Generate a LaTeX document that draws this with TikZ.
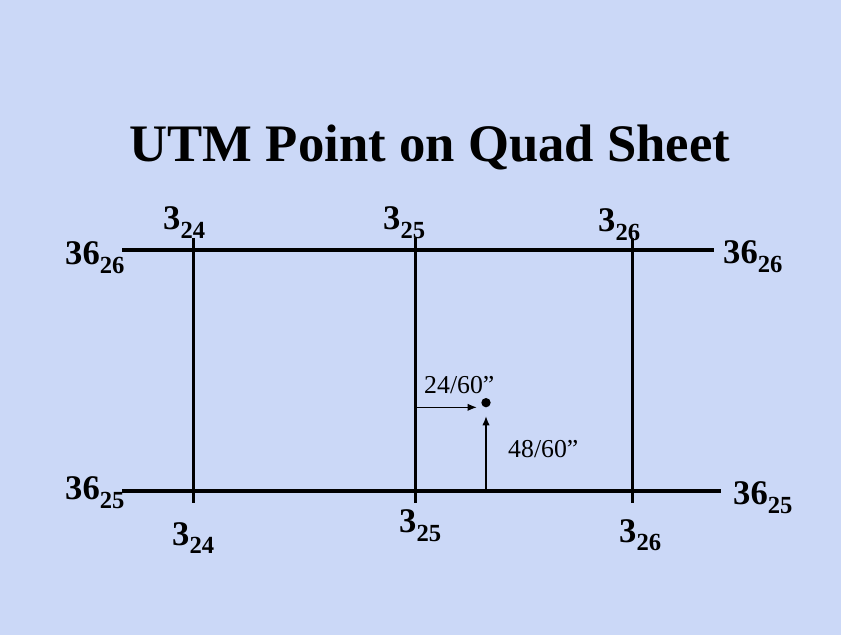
\documentclass[tikz,border=0pt]{standalone}
\usepackage{fontspec}
\setmainfont{Liberation Serif}
\usetikzlibrary{arrows.meta,positioning}
\definecolor{sheetbg}{RGB}{203,216,247}
\newcommand{\gridlab}[2]{#1\raisebox{-7pt}{\fontsize{21}{21}\selectfont #2}}

\begin{document}
\begin{tikzpicture}[
  node distance=0.4cm,
  grid/.style={line width=2.6pt},
  lab/.style={anchor=base west, inner sep=0pt, font=\fontsize{29.5}{31}\selectfont\bfseries},
  meas/.style={anchor=base west, inner sep=0pt, font=\fontsize{22}{24}\selectfont},
  arr/.style={-{Latex[length=2.8mm,width=2.2mm]}, line width=1.2pt}
]
  \fill[sheetbg] (0,0) rectangle (25.23,19.05);
  \useasboundingbox (0,0) rectangle (25.23,19.05);

  \node[anchor=base, inner sep=0pt, font=\fontsize{45}{47}\selectfont\bfseries] (title) at (12.9,14.19) {UTM Point on Quad Sheet};

  \coordinate (nw) at (3.66,11.55);
  \coordinate (ne) at (21.42,11.55);
  \coordinate (sw) at (3.66,4.32);
  \coordinate (se) at (21.63,4.32);
  \coordinate (a1) at (5.80,11.91);
  \coordinate (a2) at (5.80,3.96);
  \coordinate (b1) at (12.47,11.91);
  \coordinate (b2) at (12.47,3.96);
  \coordinate (c1) at (18.98,11.91);
  \coordinate (c2) at (18.98,3.96);
  \draw[grid] (nw) -- (ne);
  \draw[grid] (sw) -- (se);
  \draw[grid] (a1) -- (a2);
  \draw[grid] (b1) -- (b2);
  \draw[grid] (c1) -- (c2);

  \node[lab] (nlw) at (1.95,11.10) {\gridlab{36}{26}};
  \node[lab] (nle) at (21.69,11.13) {\gridlab{36}{26}};
  \node[lab] (slw) at (1.95,4.05) {\gridlab{36}{25}};
  \node[lab] (sle) at (21.99,3.90) {\gridlab{36}{25}};
  \node[lab] (ta) at (4.89,12.15) {\gridlab{3}{24}};
  \node[lab] (tb) at (11.49,12.15) {\gridlab{3}{25}};
  \node[lab] (tc) at (17.94,12.09) {\gridlab{3}{26}};
  \node[lab] (ba) at (5.16,2.70) {\gridlab{3}{24}};
  \node[lab] (bb) at (11.97,3.06) {\gridlab{3}{25}};
  \node[lab] (bc) at (18.57,2.79) {\gridlab{3}{26}};

  \node[circle, fill, inner sep=0pt, minimum size=0.28cm] (pt) at (14.58,6.97) {};
  \coordinate (hs) at (12.47,6.83);
  \coordinate (he) at (14.31,6.83);
  \coordinate (vs) at (14.58,4.32);
  \coordinate (ve) at (14.58,6.57);
  \draw[arr] (hs) -- (he);
  \draw[arr] (vs) -- (ve);
  \node[meas] (east) at (12.72,7.23) {24/60”};
  \node[meas] (north) at (15.24,5.32) {48/60”};
\end{tikzpicture}
\end{document}
